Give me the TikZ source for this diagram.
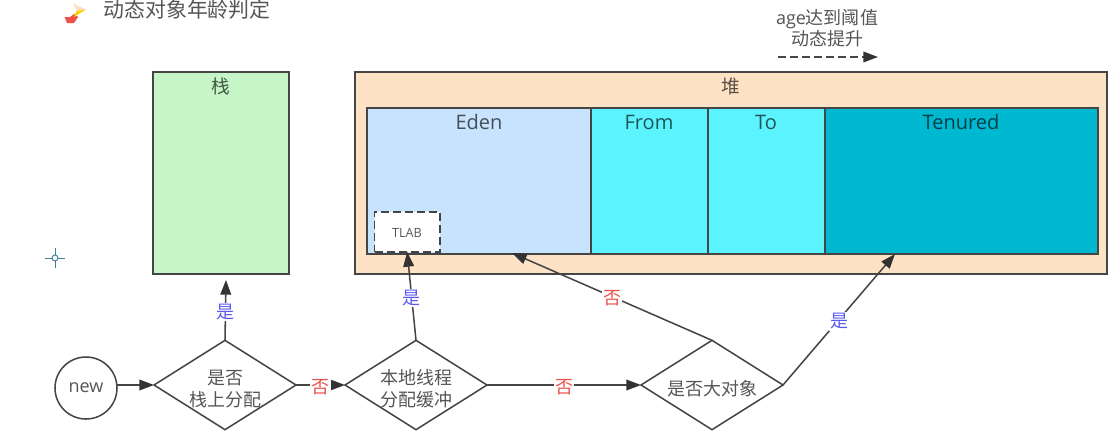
\documentclass[tikz,border=0pt]{standalone}
\usepackage{fontspec}
\setmainfont{Open Sans}
\newfontfamily\cjk{Noto Sans CJK SC}
\usetikzlibrary{arrows.meta,shapes.geometric}
\definecolor{inkline}{HTML}{454545}
\definecolor{inktext}{HTML}{555555}
\definecolor{stackfill}{HTML}{C6F6C8}
\definecolor{heapfill}{HTML}{FEE2C6}
\definecolor{edenfill}{HTML}{C8E3FE}
\definecolor{survfill}{HTML}{5BF3FE}
\definecolor{oldfill}{HTML}{00B8D0}
\definecolor{yeslabel}{HTML}{5A5AF0}
\definecolor{nolabel}{HTML}{F0504A}
\definecolor{crosshair}{HTML}{3F7F9C}
% a taller first line sets the text of a decision a little below its centre
\newcommand{\lowerline}{\rule{0pt}{17pt}}
\tikzset{
  x=0.75pt,y=-0.75pt,
  region/.style={draw=inkline,line width=1.15pt,anchor=north west,inner sep=0pt,outer sep=0pt},
  heading/.style={text=black,text opacity=.65,font=\fontsize{15}{17}\selectfont,inner sep=0pt,
    text height=11pt,text depth=3pt},
  cjkheading/.style={heading,font=\cjk\fontsize{14}{16}\selectfont},
  decision/.style={diamond,aspect=1.6,draw=inkline,line width=1.15pt,minimum width=106.5pt,minimum height=67pt,
    inner sep=-6pt,outer sep=0pt,align=center,text=inktext,font=\cjk\fontsize{13.5}{16.5}\selectfont},
  flow/.style={draw=inkline,line width=1.15pt,-{Triangle[length=11pt,width=8pt,color=black!80]}},
  yes/.style={text=yeslabel,fill=white,inner sep=1pt,yshift=-1.5pt,font=\cjk\fontsize{13.5}{15}\selectfont},
  no/.style={text=nolabel,fill=white,inner sep=1pt,yshift=-1.5pt,font=\cjk\fontsize{13.5}{15}\selectfont}
}
\begin{document}
\begin{tikzpicture}
\useasboundingbox (0,0) rectangle (1119,432);

% page heading with its small icon
\fill[nolabel] (64.5,17) -- (70,17) -- (74,14) -- (78,17) -- (74,23) -- (67,23) -- cycle;
\fill[orange!25] (73,3.5) -- (86,9.5) -- (76.5,11) -- cycle;
\fill[yellow!70!orange] (86,9.5) -- (76.5,11) -- (74,17) -- cycle;
\node[anchor=west,text=inktext,font=\cjk\fontsize{15.7}{18}\selectfont,inner sep=0pt] (title) at (103,10) {动态对象年龄判定};

% cursor mark
\draw[crosshair,line width=0.7pt] (55,248) -- (55,268) (45,258) -- (65,258);
\draw[crosshair,fill=white,line width=0.7pt] (55,258) circle[radius=3];

% stack
\node[region,fill=stackfill,minimum width=102pt,minimum height=151.5pt] (stack) at (153,72) {};
\node[cjkheading] (stacktitle) at (221,88) {栈};

% heap and its generations
\node[region,fill=heapfill,minimum width=564pt,minimum height=151.5pt] (heap) at (355,72) {};
\node[cjkheading] (heaptitle) at (731,88) {堆};
\node[region,fill=edenfill,minimum width=168pt,minimum height=109.5pt] (eden) at (367,108) {};
\node[region,fill=survfill,minimum width=87.75pt,minimum height=109.5pt] (from) at (591,108) {};
\node[region,fill=survfill,minimum width=87.75pt,minimum height=109.5pt] (to) at (708,108) {};
\node[region,fill=oldfill,minimum width=204.75pt,minimum height=109.5pt] (tenured) at (825,108) {};
\node[heading] (edentitle) at (479,124) {Eden};
\node[heading] (fromtitle) at (649,124) {From};
\node[heading] (totitle) at (766,124) {To};
\node[heading] (tenuredtitle) at (961,124) {Tenured};
\node[region,fill=white,dashed,dash pattern=on 6pt off 3pt,minimum width=49pt,minimum height=30pt] (tlab) at (374.5,212) {};
\node[text=inktext,font=\fontsize{9.5}{11}\selectfont,inner sep=0pt] (tlabtext) at (407,233) {TLAB};

% entry point and decisions
\node[circle,draw=inkline,line width=1.15pt,minimum size=46.5pt,inner sep=0pt,outer sep=0pt,text=inktext,
  font=\fontsize{13.5}{15}\selectfont] (new) at (86,388) {\raisebox{-1.2pt}{new}};
\node[decision] (onstack) at (225,385) {\lowerline 是否\\栈上分配};
\node[decision] (local) at (416,385) {\lowerline 本地线程\\分配缓冲};
\node[decision] (big) at (712,385) {\lowerline 是否大对象};

% free ends of the connectors
\coordinate (stackin) at (226,280);
\coordinate (edenin) at (512,253);
\coordinate (tenuredin) at (895,254);
\coordinate (ageStart) at (778,57);
\coordinate (ageEnd) at (878,57);

% connectors
\draw[flow] (new.east |- onstack.west) -- (onstack.west);
\draw[flow] (onstack.north) -- (stackin) node[yes,midway] (l1) {是};
\draw[flow] (onstack.east) -- (local.west) node[no,midway] (l2) {否};
\draw[flow] (local.north) -- (tlab.south) node[yes,midway] (l3) {是};
\draw[flow] (local.east) -- (big.west) node[no,midway] (l4) {否};
\draw[flow] (big.north) -- (edenin) node[no,midway] (l5) {否};
\draw[flow] (big.east) -- (tenuredin) node[yes,midway] (l6) {是};

% promotion note
\node[text=inktext,align=center,font=\fontsize{13.5}{15.8}\selectfont,inner sep=0pt] (agenote) at (827,28)
  {age{\cjk 达到阈值}\\{\cjk 动态提升}};
\draw[flow,dash pattern=on 6pt off 3pt] (ageStart) -- (ageEnd);
\end{tikzpicture}
\end{document}
